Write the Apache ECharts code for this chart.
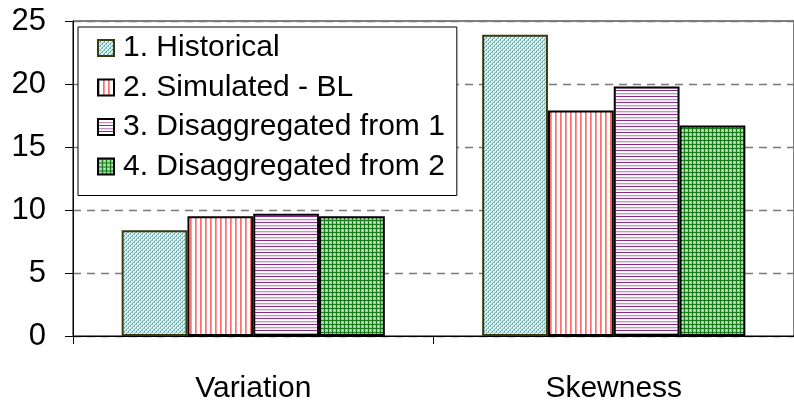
<!DOCTYPE html>
<html>
<head>
<meta charset="utf-8">
<script src="https://cdn.jsdelivr.net/npm/echarts@6/dist/echarts.min.js"></script>
<style>html,body{margin:0;padding:0;background:#fff;}#c{width:794px;height:413px;}</style>
</head>
<body>
<div id="c"></div>
<script>
const categories = ['Variation', 'Skewness'];
const seriesNames = ['1. Historical', '2. Simulated - BL', '3. Disaggregated from 1', '4. Disaggregated from 2'];
const historical = [8.4, 23.9];
const simulated = [9.5, 17.9];
const disagg1 = [9.7, 19.8];
const disagg2 = [9.5, 16.7];
const yTicks = [0, 5, 10, 15, 20, 25];

function makePattern(w, h, painter) {
  const c = document.createElement('canvas');
  c.width = w; c.height = h;
  const ctx = c.getContext('2d');
  painter(ctx);
  return { image: c, repeat: 'repeat' };
}
const px = (ctx, x, y, col) => { ctx.fillStyle = col; ctx.fillRect(x, y, 1, 1); };

const tealPat = makePattern(4, 4, ctx => {
  ctx.fillStyle = '#d8eeee'; ctx.fillRect(0, 0, 4, 4);
  px(ctx, 0, 3, '#4aa3a3'); px(ctx, 1, 2, '#6fb8b8'); px(ctx, 2, 1, '#4aa3a3'); px(ctx, 3, 0, '#6fb8b8');
  px(ctx, 0, 0, '#8cc8c8'); px(ctx, 2, 2, '#8cc8c8'); px(ctx, 1, 3, '#ffffff'); px(ctx, 3, 1, '#ffffff');
});
const redPat = makePattern(5, 1, ctx => {
  ctx.fillStyle = '#ffffff'; ctx.fillRect(0, 0, 5, 1);
  px(ctx, 0, 0, '#ff6b6b'); px(ctx, 1, 0, '#ff9a9a');
});
const purplePat = makePattern(1, 6, ctx => {
  ctx.fillStyle = '#ffffff'; ctx.fillRect(0, 0, 1, 6);
  px(ctx, 0, 0, '#8a2a8a'); px(ctx, 0, 3, '#c98fc9'); px(ctx, 0, 4, '#eed8ee');
});
const greenPat = makePattern(4, 4, ctx => {
  ctx.fillStyle = '#98d098'; ctx.fillRect(0, 0, 4, 4);
  ctx.fillStyle = '#167e16'; ctx.fillRect(0, 0, 4, 1); ctx.fillRect(0, 0, 1, 4);
  px(ctx, 2, 2, '#e8f6e8');
});

const seriesData = [historical, simulated, disagg1, disagg2];
const fills = [tealPat, redPat, purplePat, greenPat];
const borders = ['#3a3a12', '#000000', '#000000', '#000000'];

const chart = echarts.init(document.getElementById('c'), null, { renderer: 'canvas' });
const font = 'Liberation Sans, Arial, sans-serif';
chart.setOption({
  animation: false,
  backgroundColor: '#ffffff',
  grid: { left: 73, right: 0, top: 21, bottom: 77, show: true, borderColor: '#000', borderWidth: 1 },
  legend: {
    orient: 'vertical', left: 78, top: 27,
    width: 377,
    icon: 'rect',
    backgroundColor: '#ffffff', borderColor: '#000', borderWidth: 1,
    padding: [6, 12, 14, 19],
    itemWidth: 16, itemHeight: 16, itemGap: 9.5,
    textStyle: { fontFamily: font, fontSize: 30, color: '#000', lineHeight: 30, padding: [0, 0, 0, 4] },
    data: seriesNames
  },
  xAxis: {
    type: 'category', data: categories,
    axisLine: { lineStyle: { color: '#000', width: 1 } },
    axisTick: { show: true, length: 8, lineStyle: { color: '#000' } },
    axisLabel: { fontFamily: font, fontSize: 30, color: '#000', margin: 38 },
    splitLine: { show: false }
  },
  yAxis: {
    type: 'value', min: 0, max: 25, interval: 5,
    axisLine: { show: true, lineStyle: { color: '#000', width: 1 } },
    axisTick: { show: true, length: 8, lineStyle: { color: '#000' } },
    axisLabel: { fontFamily: font, fontSize: 31, color: '#000', margin: 27,
      formatter: v => (yTicks.includes(v) ? String(v) : '') },
    splitLine: { show: true, lineStyle: { color: '#7a7a7a', type: [8, 6], width: 1.3 } }
  },
  series: seriesNames.map((name, i) => ({
    name, type: 'bar', data: seriesData[i],
    barGap: '0%', barCategoryGap: '27%',
    itemStyle: { color: fills[i], borderColor: borders[i], borderWidth: 2 },
    emphasis: { disabled: true }
  }))
});
</script>
</body>
</html>
